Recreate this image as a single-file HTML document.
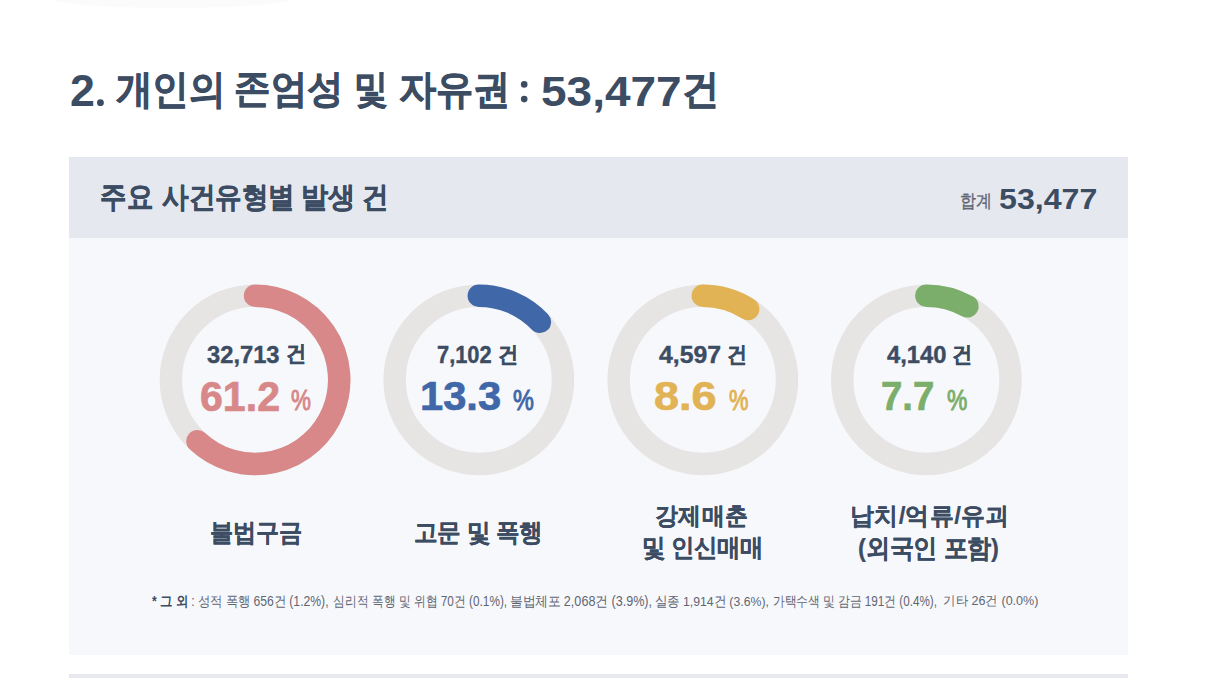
<!DOCTYPE html>
<html><head><meta charset="utf-8">
<style>
html,body{margin:0;padding:0;background:#fff;width:1206px;height:678px;overflow:hidden;}
body{font-family:"Liberation Sans",sans-serif;position:relative;}
.t{position:absolute;white-space:nowrap;line-height:1;transform-origin:0 0;}
.box{position:absolute;}
</style></head><body>
<div class="box" style="left:47px;top:-3px;width:249px;height:11px;border-radius:0 0 50% 50% / 0 0 100% 100%;background:#fbfbfb"></div>
<div class="box" style="left:68.5px;top:157px;width:1059.5px;height:81px;background:#e6e8f0"></div>
<div class="box" style="left:68.5px;top:238px;width:1059.5px;height:417px;background:#f7f8fc"></div>
<div class="box" style="left:68.5px;top:674px;width:1059.5px;height:4px;background:#e8e9ef"></div>
<svg style="position:absolute;left:0;top:0" width="1206" height="678"><circle cx="255.05" cy="379.8" r="84.15" fill="none" stroke="#e6e5e3" stroke-width="22.5"/><path d="M255.05 295.65 A84.15 84.15 0 1 1 197.45 441.14" fill="none" stroke="#d88888" stroke-width="22.5" stroke-linecap="round"/><circle cx="478.8" cy="379.8" r="84.15" fill="none" stroke="#e6e5e3" stroke-width="22.5"/><path d="M478.80 295.65 A84.15 84.15 0 0 1 539.84 321.87" fill="none" stroke="#4067a8" stroke-width="22.5" stroke-linecap="round"/><circle cx="702.8" cy="379.8" r="84.15" fill="none" stroke="#e6e5e3" stroke-width="22.5"/><path d="M702.80 295.65 A84.15 84.15 0 0 1 748.14 308.91" fill="none" stroke="#e2b354" stroke-width="22.5" stroke-linecap="round"/><circle cx="926.4" cy="379.8" r="84.15" fill="none" stroke="#e6e5e3" stroke-width="22.5"/><path d="M926.40 295.65 A84.15 84.15 0 0 1 967.45 306.34" fill="none" stroke="#7cae6b" stroke-width="22.5" stroke-linecap="round"/><circle cx="100.45" cy="102.65" r="3.4" fill="#3c4c63"/><circle cx="524.2" cy="84.4" r="3.3" fill="#3c4c63"/><circle cx="524.2" cy="99.1" r="3.3" fill="#3c4c63"/></svg>
<div class='t' style='left:70.00px;top:68.61px;transform:scale(1.1186,1.0952);font-weight:700;font-size:40px;color:#3c4c63;'>2</div>
<div class='t' style='left:116.27px;top:69.23px;transform:scale(0.9063,0.9884);font-weight:700;font-size:40px;color:#3c4c63;-webkit-text-stroke:0.6px #3c4c63;'>개인의</div>
<div class='t' style='left:233.86px;top:69.26px;transform:scale(0.9141,0.9789);font-weight:700;font-size:40px;color:#3c4c63;-webkit-text-stroke:0.6px #3c4c63;'>존엄성</div>
<div class='t' style='left:354.12px;top:69.38px;transform:scale(0.8459,0.9717);font-weight:700;font-size:40px;color:#3c4c63;-webkit-text-stroke:0.6px #3c4c63;'>및</div>
<div class='t' style='left:398.94px;top:69.00px;transform:scale(0.9296,0.9984);font-weight:700;font-size:40px;color:#3c4c63;-webkit-text-stroke:0.6px #3c4c63;'>자유권</div>
<div class='t' style='left:541.00px;top:69.32px;transform:scale(1.1494,1.0788);font-weight:700;font-size:40px;color:#3c4c63;'>53,477</div>
<div class='t' style='left:682.29px;top:69.21px;transform:scale(0.9266,0.9973);font-weight:700;font-size:40px;color:#3c4c63;-webkit-text-stroke:0.6px #3c4c63;'>건</div>
<div class='t' style='left:99.61px;top:181.61px;transform:scale(0.9866,1.1234);font-weight:700;font-size:27px;color:#3c4c63;-webkit-text-stroke:0.4px #3c4c63;'>주요</div>
<div class='t' style='left:161.79px;top:183.15px;transform:scale(0.9848,1.0739);font-weight:700;font-size:27px;color:#3c4c63;-webkit-text-stroke:0.4px #3c4c63;'>사건유형별</div>
<div class='t' style='left:301.49px;top:183.10px;transform:scale(1.0055,1.0742);font-weight:700;font-size:27px;color:#3c4c63;-webkit-text-stroke:0.4px #3c4c63;'>발생</div>
<div class='t' style='left:362.31px;top:183.41px;transform:scale(0.9948,1.0920);font-weight:700;font-size:27px;color:#3c4c63;-webkit-text-stroke:0.4px #3c4c63;'>건</div>
<div class='t' style='left:959.54px;top:192.32px;transform:scale(1.0009,1.1289);font-weight:400;font-size:16px;color:#5f6673;-webkit-text-stroke:0.3px #5f6673;'>합계</div>
<div class='t' style='left:999.00px;top:183.98px;transform:scale(1.1488,1.0789);font-weight:700;font-size:28px;color:#3c4c63;'>53,477</div>
<div class='t' style='left:207.35px;top:341.91px;transform:scale(1.1292,1.1447);font-weight:700;font-size:21px;color:#3c4c63;-webkit-text-stroke:0.35px #3c4c63;'>32,713</div>
<div class='t' style='left:285.80px;top:342.43px;transform:scale(0.9802,1.0640);font-weight:700;font-size:21px;color:#3c4c63;-webkit-text-stroke:0.2px #3c4c63;'>건</div>
<div class='t' style='left:437.44px;top:343.21px;transform:scale(1.0400,1.1042);font-weight:700;font-size:21px;color:#3c4c63;-webkit-text-stroke:0.35px #3c4c63;'>7,102</div>
<div class='t' style='left:497.80px;top:342.64px;transform:scale(0.9756,1.0601);font-weight:700;font-size:21px;color:#3c4c63;-webkit-text-stroke:0.2px #3c4c63;'>건</div>
<div class='t' style='left:658.51px;top:343.21px;transform:scale(1.1816,1.1042);font-weight:700;font-size:21px;color:#3c4c63;-webkit-text-stroke:0.35px #3c4c63;'>4,597</div>
<div class='t' style='left:726.72px;top:342.64px;transform:scale(0.9645,1.0601);font-weight:700;font-size:21px;color:#3c4c63;-webkit-text-stroke:0.2px #3c4c63;'>건</div>
<div class='t' style='left:886.81px;top:343.21px;transform:scale(1.1319,1.1042);font-weight:700;font-size:21px;color:#3c4c63;-webkit-text-stroke:0.35px #3c4c63;'>4,140</div>
<div class='t' style='left:952.28px;top:343.11px;transform:scale(0.9650,1.0473);font-weight:700;font-size:21px;color:#3c4c63;-webkit-text-stroke:0.2px #3c4c63;'>건</div>
<div class='t' style='left:199.66px;top:375.94px;transform:scale(1.0275,1.0403);font-weight:700;font-size:40px;color:#d88888;-webkit-text-stroke:0.7px #d88888;'>61.2</div>
<div class='t' style='left:291.43px;top:385.39px;transform:scale(0.8627,1.1391);font-weight:400;font-size:26px;color:#d88888;-webkit-text-stroke:0.9px #d88888;'>%</div>
<div class='t' style='left:419.54px;top:376.20px;transform:scale(1.0419,1.0052);font-weight:700;font-size:40px;color:#4067a8;-webkit-text-stroke:0.7px #4067a8;'>13.3</div>
<div class='t' style='left:512.61px;top:386.10px;transform:scale(0.9034,1.1021);font-weight:400;font-size:26px;color:#4067a8;-webkit-text-stroke:0.9px #4067a8;'>%</div>
<div class='t' style='left:654.26px;top:376.10px;transform:scale(1.1244,1.0079);font-weight:700;font-size:40px;color:#e2b354;-webkit-text-stroke:0.7px #e2b354;'>8.6</div>
<div class='t' style='left:729.38px;top:385.85px;transform:scale(0.8420,1.1130);font-weight:400;font-size:26px;color:#e2b354;-webkit-text-stroke:0.9px #e2b354;'>%</div>
<div class='t' style='left:881.18px;top:376.49px;transform:scale(0.9587,0.9929);font-weight:700;font-size:40px;color:#7cae6b;-webkit-text-stroke:0.7px #7cae6b;'>7.7</div>
<div class='t' style='left:946.50px;top:386.15px;transform:scale(0.8812,1.1011);font-weight:400;font-size:26px;color:#7cae6b;-webkit-text-stroke:0.9px #7cae6b;'>%</div>
<div class='t' style='left:210.20px;top:519.85px;transform:scale(0.9579,1.0340);font-weight:700;font-size:24px;color:#3c4c63;-webkit-text-stroke:0.2px #3c4c63;'>불법구금</div>
<div class='t' style='left:413.92px;top:520.63px;transform:scale(0.9645,1.0243);font-weight:700;font-size:24px;color:#3c4c63;-webkit-text-stroke:0.2px #3c4c63;'>고문 및 폭행</div>
<div class='t' style='left:655.32px;top:504.19px;transform:scale(0.9700,1.0163);font-weight:700;font-size:24px;color:#3c4c63;-webkit-text-stroke:0.2px #3c4c63;'>강제매춘</div>
<div class='t' style='left:641.73px;top:536.37px;transform:scale(0.9581,1.0220);font-weight:700;font-size:24px;color:#3c4c63;-webkit-text-stroke:0.2px #3c4c63;'>및 인신매매</div>
<div class='t' style='left:849.55px;top:503.80px;transform:scale(1.0151,1.0199);font-weight:700;font-size:24px;color:#3c4c63;-webkit-text-stroke:0.2px #3c4c63;'>납치/억류/유괴</div>
<div class='t' style='left:858.42px;top:535.65px;transform:scale(0.9875,1.0621);font-weight:700;font-size:24px;color:#3c4c63;-webkit-text-stroke:0.2px #3c4c63;'>(외국인 포함)</div>
<div class='t' style='left:152.26px;top:594.70px;transform:scale(1.0144,1.1438);font-weight:400;font-size:12px;color:#5f6673;'><b style="color:#3c4c63;-webkit-text-stroke-color:#3c4c63">* 그 외</b> : 성적 폭행 656건 (1.2%),</div>
<div class='t' style='left:332.80px;top:594.05px;transform:scale(0.9855,1.1732);font-weight:400;font-size:12px;color:#5f6673;'>심리적 폭행 및 위협 70건 (0.1%),</div>
<div class='t' style='left:509.71px;top:594.73px;transform:scale(1.0494,1.1465);font-weight:400;font-size:12px;color:#5f6673;'>불법체포 2,068건 (3.9%),</div>
<div class='t' style='left:655.13px;top:594.80px;transform:scale(1.0225,1.1416);font-weight:400;font-size:12px;color:#5f6673;'>실종 1,914건 (3.6%),</div>
<div class='t' style='left:772.75px;top:594.14px;transform:scale(0.9758,1.1521);font-weight:400;font-size:12px;color:#5f6673;'>가택수색 및 감금 191건 (0.4%),</div>
<div class='t' style='left:943.44px;top:594.09px;transform:scale(1.0440,1.0936);font-weight:400;font-size:12px;color:#5f6673;'>기타 26건 (0.0%)</div>
</body></html>
